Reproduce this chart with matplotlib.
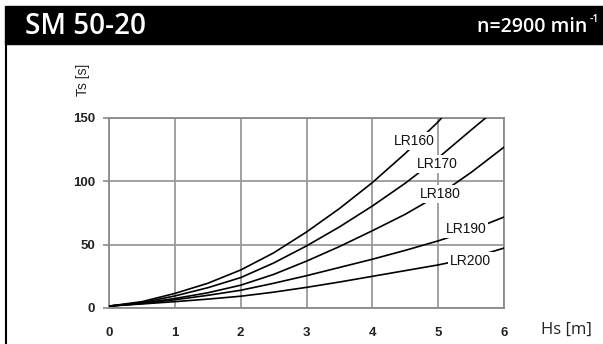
import matplotlib
matplotlib.use("Agg")
import matplotlib.pyplot as plt
from matplotlib.patches import Rectangle
from matplotlib.lines import Line2D

# pump curves: fill time Ts [s] over head Hs [m]
hs = [0, 0.5, 1, 1.5, 2, 2.5, 3, 3.5, 4, 4.5, 5, 5.5, 6]
lr160 = [1.5, 5, 11.5, 19.5, 30, 43.5, 60, 78.5, 99, 122, 147]
lr170 = [1.5, 4.3, 9.5, 16, 24, 35.5, 49, 64, 80.5, 98.5, 118.5, 140.5]
lr180 = [1.5, 3.8, 7.5, 12, 18, 26.5, 37, 48.5, 61, 74, 89, 107, 127]
lr190 = [1.5, 3.5, 6.5, 10, 14, 19.5, 25.5, 32, 38.5, 45.5, 53, 61.5, 71.8]
lr200 = [1.5, 3.2, 5, 7, 9.3, 12.5, 16.3, 20.5, 25, 29.5, 34, 39.5, 47.3]
# the two steep curves run out of the frame at 150 s
lr160_end = (5.05, 150)
lr170_end = (5.72, 150)

curve_names = ["LR160", "LR170", "LR180", "LR190", "LR200"]
label_pos = [(4.64, 132), (4.99, 113.5), (5.04, 90), (5.42, 62.4), (5.49, 36.9)]

xticks = [0, 1, 2, 3, 4, 5, 6]
yticks = [0, 50, 100, 150]

fig = plt.figure(figsize=(6.03, 3.44), dpi=100)

# black title bar
fig.patches.append(Rectangle((5 / 603, 1 - 44 / 344), 1, 38 / 344,
                             transform=fig.transFigure, color="black", zorder=0))
fig.lines.append(Line2D([5.5 / 603, 5.5 / 603], [0, 1 - 44 / 344],
                        transform=fig.transFigure, color="black", lw=1.5))
fig.text(25 / 603, 1 - 26 / 344, "SM 50-20", color="white", family="Open Sans",
         weight="semibold", fontsize=20, va="center", ha="left")
fig.text(587 / 603, 1 - 27 / 344, "n=2900 min", color="white", family="Open Sans",
         weight="semibold", fontsize=14, va="center", ha="right")
fig.text(590 / 603, 1 - 20 / 344, "-1", color="white", family="Open Sans",
         weight="semibold", fontsize=7.5, va="center", ha="left")

ax = fig.add_axes([109 / 603, 36 / 344, 395 / 603, 190 / 344])

series = [
    (hs[:len(lr160)] + [lr160_end[0]], lr160 + [lr160_end[1]]),
    (hs[:len(lr170)] + [lr170_end[0]], lr170 + [lr170_end[1]]),
    (hs, lr180),
    (hs, lr190),
    (hs, lr200),
]
for (xs, ys) in series:
    ax.plot(xs, ys, color="black", lw=1.2, zorder=3, solid_joinstyle="round")

for name, (lx, ly) in zip(curve_names, label_pos):
    ax.text(lx, ly, name, family="Liberation Sans", fontsize=10, ha="center",
            va="center", zorder=4, color="#111111",
            bbox=dict(boxstyle="square,pad=0.15", fc="white", ec="none"))

ax.set_xlim(0, 6)
ax.set_ylim(0, 150)
ax.set_xticks(xticks)
ax.set_yticks(yticks)
ax.grid(True, color="#9a9a9a", lw=1.3)
ax.set_axisbelow(True)
for s in ax.spines.values():
    s.set_color("#8a8a8a")
    s.set_linewidth(1.3)
ax.tick_params(axis="both", colors="#8a8a8a", length=4, width=1.2,
               labelcolor="#222222", labelsize=9.5)
ax.tick_params(axis="x", length=0, pad=14)
ax.tick_params(axis="y", pad=6)
for lbl in ax.get_xticklabels() + ax.get_yticklabels():
    lbl.set_family("Liberation Sans")
    lbl.set_weight("bold")

fig.text(83 / 603, 1 - 80 / 344, "Ts [s]", family="Liberation Sans", fontsize=10,
         rotation=90, ha="center", va="center", color="#222222")
fig.text(541 / 603, 1 - 330 / 344, "Hs [m]", family="Open Sans", fontsize=12,
         ha="left", va="center", color="#222222")

fig.savefig("out.png", dpi=100)
